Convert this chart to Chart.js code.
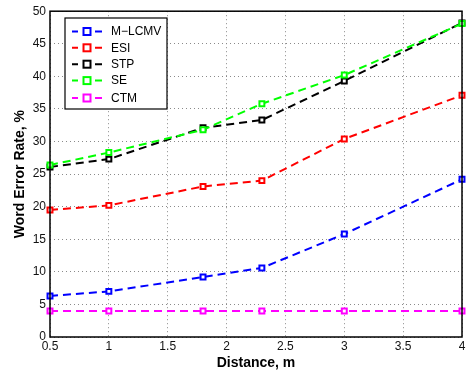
<!DOCTYPE html>
<html>
<head>
<meta charset="utf-8">
<script src="https://cdn.jsdelivr.net/npm/chart.js@4/dist/chart.umd.min.js"></script>
<style>
  html, body { margin: 0; padding: 0; background: #fff; }
</style>
</head>
<body>
<canvas id="wer" width="468" height="374"></canvas>
<script>
const distances = [0.5, 1, 1.8, 2.3, 3, 4];
const seriesNames = ['M\u2212LCMV', 'ESI', 'STP', 'SE', 'CTM'];
const seriesColors = ['#0000ff', '#ff0000', '#000000', '#00ff00', '#ff00ff'];
const mlcmv = [6.3, 7.0, 9.2, 10.6, 15.8, 24.2];
const esi   = [19.5, 20.2, 23.1, 24.0, 30.4, 37.1];
const stp   = [26.1, 27.3, 32.1, 33.3, 39.3, 48.2];
const se    = [26.4, 28.3, 31.8, 35.8, 40.2, 48.1];
const ctm   = [4.0, 4.0, 4.0, 4.0, 4.0, 4.0];
const seriesValues = [mlcmv, esi, stp, se, ctm];

const FONT = '"Liberation Sans", Arial, Helvetica, sans-serif';
const DASH = [8, 5];

const datasets = seriesNames.map((name, i) => ({
  label: name,
  data: distances.map((x, k) => ({ x, y: seriesValues[i][k] })),
  borderColor: seriesColors[i],
  borderWidth: 2,
  borderDash: DASH,
  pointStyle: 'rect',
  pointRadius: 3.5,
  pointBorderWidth: 2,
  pointBackgroundColor: '#ffffff',
  clip: false,
  order: seriesNames.length - i,
}));

// axes box + MATLAB style legend inside the plot
const frameAndLegend = {
  id: 'frameAndLegend',
  afterDatasetsDraw(chart) {
    const ctx = chart.ctx;
    const a = chart.chartArea;
    ctx.save();
    ctx.setLineDash([]);
    ctx.strokeStyle = '#000';
    ctx.lineWidth = 1.5;
    ctx.strokeRect(a.left, a.top, a.right - a.left, a.bottom - a.top);

    const bx = 65, by = 18, bw = 102, bh = 91;
    ctx.fillStyle = '#fff';
    ctx.fillRect(bx, by, bw, bh);
    ctx.lineWidth = 1.2;
    ctx.strokeRect(bx, by, bw, bh);

    const rows = [31.5, 47.8, 64.2, 80.6, 98];
    ctx.font = '12px ' + FONT;
    ctx.textBaseline = 'middle';
    ctx.textAlign = 'left';
    seriesNames.forEach((name, i) => {
      const y = rows[i];
      ctx.strokeStyle = seriesColors[i];
      ctx.lineWidth = 2;
      ctx.beginPath();
      ctx.moveTo(72, y); ctx.lineTo(78, y);
      ctx.moveTo(95, y); ctx.lineTo(102, y);
      ctx.stroke();
      ctx.fillStyle = '#fff';
      ctx.fillRect(83.5, y - 3.5, 7, 7);
      ctx.strokeRect(83.5, y - 3.5, 7, 7);
      ctx.fillStyle = '#000';
      ctx.fillText(name, 111, y + 0.5);
    });
    ctx.restore();
  }
};

new Chart(document.getElementById('wer'), {
  type: 'line',
  data: { datasets },
  plugins: [frameAndLegend],
  options: {
    responsive: false,
    animation: false,
    layout: { padding: { top: 10, right: 2, left: 0, bottom: 0 } },
    plugins: { legend: { display: false }, tooltip: { enabled: false } },
    scales: {
      x: {
        type: 'linear', min: 0.5, max: 4,
        afterFit: s => { s.height = 37; s.paddingLeft = 0; s.paddingRight = 0; },
        ticks: { stepSize: 0.5, color: '#111', font: { family: FONT, size: 12 }, padding: 2, maxRotation: 0,
                 callback: v => String(v) },
        grid: { color: '#8a8a8a', drawTicks: false },
        border: { display: false, dash: [1, 3] },
        title: { display: true, text: 'Distance, m', color: '#000',
                 font: { family: FONT, size: 14, weight: 'bold' }, padding: { top: 0, bottom: 2 } },
      },
      y: {
        min: 0, max: 50,
        afterFit: s => { s.width = 50; },
        ticks: { stepSize: 5, color: '#111', font: { family: FONT, size: 12 }, padding: 4 },
        grid: { color: '#8a8a8a', drawTicks: false },
        border: { display: false, dash: [1, 3] },
        title: { display: true, text: 'Word Error Rate, %', color: '#000',
                 font: { family: FONT, size: 14, weight: 'bold' }, padding: { top: 12, bottom: 0 } },
      },
    },
  },
});
</script>
</body>
</html>
